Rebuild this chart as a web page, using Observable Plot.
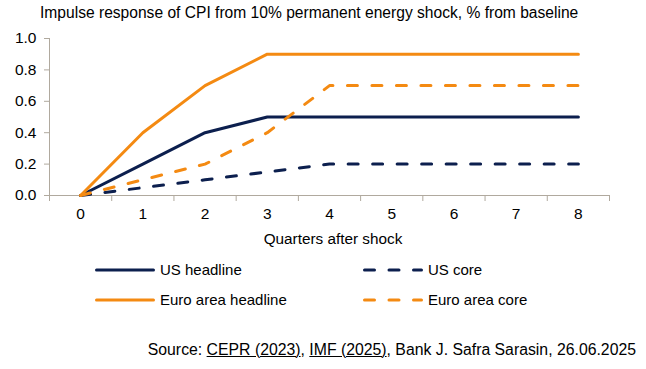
<!DOCTYPE html>
<html><head><meta charset="utf-8">
<script src="https://cdn.jsdelivr.net/npm/d3@7"></script>
<script src="https://cdn.jsdelivr.net/npm/@observablehq/plot@0.6"></script>
<style>
body{margin:0;background:#fff;width:646px;height:369px;overflow:hidden;font-family:"Liberation Sans",Arial,sans-serif;color:#000;position:relative}
#title{position:absolute;left:40px;top:4px;font-size:15.6px;white-space:nowrap;line-height:18px}
#chart{position:absolute;left:0;top:26px}
#xlabel{position:absolute;left:0;width:646px;top:230px;text-align:center;margin-left:10px;font-size:15.3px;line-height:18px}
.leg{position:absolute;font-size:15px;line-height:18px;display:flex;align-items:center;white-space:nowrap}
.leg svg{margin-right:5px}
#source{position:absolute;right:10px;top:341px;font-size:15.8px;line-height:18px;white-space:nowrap}
#source u{text-decoration-thickness:1px}
</style></head><body>
<div id="title">Impulse response of CPI from 10% permanent energy shock, % from baseline</div>
<div id="chart"></div>
<div id="xlabel">Quarters after shock</div>
<div id="legend"></div>
<div id="source">Source: <u>CEPR (2023)</u>, <u>IMF (2025)</u>, Bank J. Safra Sarasin, 26.06.2025</div>
<script>
const quarters = [0, 1, 2, 3, 4, 5, 6, 7, 8];
const usHeadline = [0, 0.2, 0.4, 0.5, 0.5, 0.5, 0.5, 0.5, 0.5];
const usCore = [0, 0.05, 0.1, 0.15, 0.2, 0.2, 0.2, 0.2, 0.2];
const euroHeadline = [0, 0.4, 0.7, 0.9, 0.9, 0.9, 0.9, 0.9, 0.9];
const euroCore = [0, 0.1, 0.2, 0.4, 0.7, 0.7, 0.7, 0.7, 0.7];
const seriesNames = ["US headline", "US core", "Euro area headline", "Euro area core"];
const yTicks = [0, 0.2, 0.4, 0.6, 0.8, 1.0];

const navy = "#0c1f4e", orange = "#f48a12", axisColor = "#b0a99e";
const dash = "10 14.5";
const styles = {
  "US headline": {stroke: navy, dash: null},
  "US core": {stroke: navy, dash: dash},
  "Euro area headline": {stroke: orange, dash: null},
  "Euro area core": {stroke: orange, dash: dash}
};
const values = {"US headline": usHeadline, "US core": usCore, "Euro area headline": euroHeadline, "Euro area core": euroCore};
const rows = seriesNames.flatMap(s => quarters.map((q, i) => ({series: s, q, v: values[s][i]})));
const boundaries = [...quarters.map(q => q - 0.5), quarters[quarters.length - 1] + 0.5];
const xDomain = [boundaries[0], boundaries[boundaries.length - 1]];
const drawOrder = ["US core", "US headline", "Euro area core", "Euro area headline"];

const chart = Plot.plot({
  width: 646, height: 224,
  marginLeft: 49, marginRight: 37, marginTop: 12, marginBottom: 55,
  x: {type: "linear", domain: xDomain},
  y: {domain: [0, 1]},
  style: {fontFamily: '"Liberation Sans", Arial, sans-serif', fontSize: "15.5px", color: "#000", background: "#fff"},
  marks: [
    Plot.axisY({ticks: yTicks, tickFormat: d3.format(".1f"), tickSize: 5, tickPadding: 8, stroke: axisColor, label: null}),
    Plot.axisX({ticks: boundaries, tickFormat: () => "", tickSize: 6, stroke: axisColor, label: null}),
    Plot.axisX({ticks: quarters, tickFormat: d => String(d), tickSize: 0, tickPadding: 12, label: null}),
    Plot.ruleX([xDomain[0]], {stroke: axisColor, strokeWidth: 1}),
    Plot.ruleY([0], {stroke: axisColor, strokeWidth: 1.2}),
    ...drawOrder.map(s => Plot.line(rows.filter(r => r.series === s), {
      x: "q", y: "v", stroke: styles[s].stroke, strokeWidth: 3,
      strokeDasharray: styles[s].dash, strokeLinecap: "round", strokeLinejoin: "round"
    }))
  ]
});
document.getElementById("chart").appendChild(chart);

// legend
const legPos = [
  {left: 95, top: 261}, {left: 363, top: 261},
  {left: 95, top: 291}, {left: 363, top: 291}
];
const legend = document.getElementById("legend");
seriesNames.forEach((s, i) => {
  const d = document.createElement("div");
  d.className = "leg";
  d.style.left = legPos[i].left + "px";
  d.style.top = legPos[i].top + "px";
  const st = styles[s];
  d.innerHTML = `<svg width="60" height="18"><line x1="1.5" x2="58.5" y1="9" y2="9" stroke="${st.stroke}" stroke-width="3" stroke-linecap="round" ${st.dash ? `stroke-dasharray="${st.dash}"` : ""}/></svg><span>${s}</span>`;
  legend.appendChild(d);
});
</script>
</body></html>
